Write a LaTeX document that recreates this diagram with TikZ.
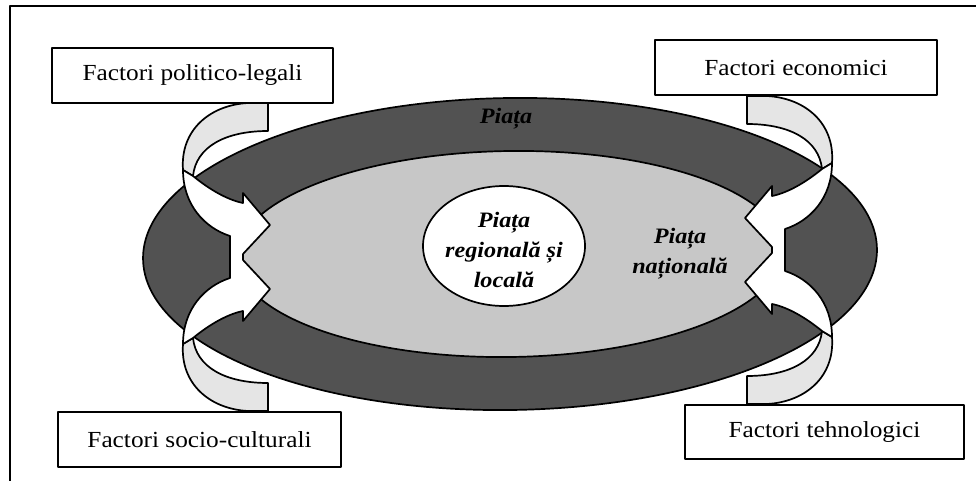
\documentclass[tikz,border=0pt]{standalone}
\usepackage{fontspec}
\usetikzlibrary{shapes.geometric}
\setmainfont{Liberation Serif}[FakeStretch=1.1]
\newfontfamily\marketfont{Liberation Serif}[FakeStretch=1.1]
\definecolor{bandgray}{gray}{0.32}
\definecolor{innergray}{gray}{0.78}
\definecolor{tailgray}{gray}{0.9}

% back half of a curled ribbon arrow (upper left copy; the others are mirrored)
\newcommand\tailpart{%
  \filldraw[tailstyle] (248,103) -- (268,103) -- (268,131)
    .. controls (225,131) and (196,147) .. (193,176)
    -- (183,170) .. controls (180,130) and (210,105) .. (248,103) -- cycle;}
% white front half ending in the arrow head
\newcommand\frontfill{%
  \fill[white] (230,258) -- (230,236) .. controls (205,228) and (183,205) .. (183,170)
    -- (193,176) .. controls (210,190) and (228,200) .. (243,203)
    -- (243,193) -- (270,225) -- (243,254) -- (243,258) -- cycle;}
\newcommand\frontline{%
  \draw[outline] (230,257) -- (230,236) .. controls (205,228) and (183,205) .. (183,170)
    -- (193,176) .. controls (210,190) and (228,200) .. (243,203)
    -- (243,193) -- (270,225) -- (243,254) -- (243,257);}

\begin{document}
\begin{tikzpicture}[x=1pt,y=-1pt,line join=round,
  outline/.style={draw=black,line width=1.7pt},
  tailstyle/.style={outline,fill=tailgray},
  mirrorlow/.style={shift={(0,514)},yscale=-1},
  mirrorright/.style={shift={(1015,-7)},xscale=-1},
  factorbox/.style={draw=black,line width=1.8pt,fill=white,minimum height=55pt,
    inner sep=0pt,font=\fontsize{23}{27}\selectfont},
  marketlabel/.style={font=\marketfont\bfseries\itshape\fontsize{22}{30}\selectfont,
    align=center,inner sep=0pt}]
\useasboundingbox (0,0) rectangle (976,481);

% page frame
\draw[line width=2.4pt] (10,481) -- (10,6) -- (976,6);

% market rings
\filldraw[outline,fill=bandgray,rotate around={0.8:(510,254)}]
  (510,254) ellipse [x radius=367, y radius=156];
\filldraw[outline,fill=innergray,rotate around={0.8:(510,254)}]
  (510,254) ellipse [x radius=273, y radius=103];
\node[draw=black,line width=1.7pt,fill=white,ellipse,minimum width=162pt,
  minimum height=120pt,inner sep=0pt] (local) at (504,246) {};
\node[marketlabel] (localtxt) at (504,250) {Piața\\regională și\\locală};
\node[marketlabel] (pnat) at (506,119) {Piața};
\node[marketlabel] (pnational) at (680,254) {Piața\\națională};

% ribbon arrows: backs, then fronts, then outlines
\tailpart
\begin{scope}[mirrorlow]\tailpart\end{scope}
\begin{scope}[mirrorright]\tailpart\end{scope}
\begin{scope}[mirrorright,mirrorlow]\tailpart\end{scope}

\frontfill
\begin{scope}[mirrorlow]\frontfill\end{scope}
\begin{scope}[mirrorright]\frontfill\end{scope}
\begin{scope}[mirrorright,mirrorlow]\frontfill\end{scope}

\frontline
\begin{scope}[mirrorlow]\frontline\end{scope}
\begin{scope}[mirrorright]\frontline\end{scope}
\begin{scope}[mirrorright,mirrorlow]\frontline\end{scope}

% factor boxes
\node[factorbox,minimum width=281pt] (pl) at (192.5,75.5) {Factori politico-legali};
\node[factorbox,minimum width=282pt] (ec) at (796,67.5) {Factori economici};
\node[factorbox,minimum width=283pt] (sc) at (199.5,439.5) {Factori socio-culturali};
\node[factorbox,minimum width=279pt,minimum height=54pt] (th) at (824.5,432) {Factori tehnologici};
\end{tikzpicture}
\end{document}
